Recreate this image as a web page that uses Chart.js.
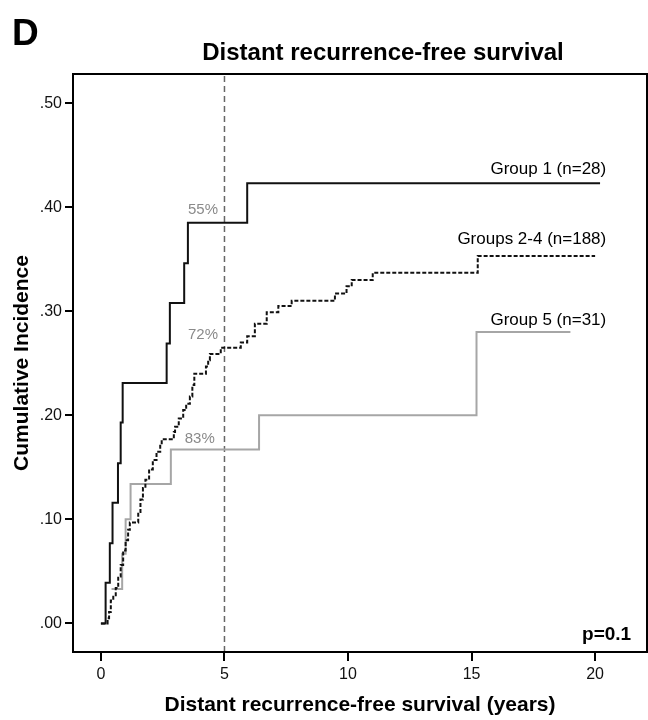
<!DOCTYPE html>
<html><head><meta charset="utf-8">
<script src="https://cdn.jsdelivr.net/npm/chart.js@4/dist/chart.umd.min.js"></script>
<style>html,body{margin:0;padding:0;background:#fff}#wrap{width:648px;height:720px}</style>
</head><body><div id="wrap"><canvas id="c" width="648" height="720"></canvas></div>
<script>
// Data (years, cumulative incidence)
const group1Times  = [0, 0.19, 0.36, 0.47, 0.69, 0.80, 0.88, 2.66, 2.79, 3.37, 3.52, 5.92, 20.2];
const group1Values = [0, 0.039, 0.077, 0.116, 0.154, 0.193, 0.231, 0.269, 0.308, 0.346, 0.385, 0.423, 0.423];

const group24Times  = [0, 0.27, 0.33, 0.40, 0.50, 0.60, 0.70, 0.80, 0.90, 1.00, 1.10, 1.17, 1.51, 1.60, 1.70, 1.80, 1.95, 2.10, 2.25, 2.40, 2.46, 2.95, 3.00, 3.15, 3.33, 3.45, 3.60, 3.70, 3.78, 4.25, 4.34, 4.41, 4.85, 5.66, 5.92, 6.23, 6.71, 7.18, 7.72, 9.47, 9.94, 10.15, 11.00, 15.25, 20.0];
const group24Values = [0, 0.005, 0.011, 0.022, 0.027, 0.034, 0.045, 0.056, 0.070, 0.080, 0.090, 0.097, 0.107, 0.119, 0.130, 0.138, 0.148, 0.157, 0.165, 0.172, 0.177, 0.184, 0.189, 0.197, 0.205, 0.211, 0.218, 0.229, 0.240, 0.247, 0.253, 0.259, 0.265, 0.270, 0.276, 0.288, 0.299, 0.305, 0.310, 0.317, 0.324, 0.330, 0.337, 0.353, 0.353];

const group5Times  = [0.43, 0.86, 1.00, 1.20, 2.83, 6.40, 15.20, 19.0];
const group5Values = [0.033, 0.067, 0.100, 0.134, 0.167, 0.200, 0.280, 0.280];

const xTicks = [0, 5, 10, 15, 20];
const yTicks = [0, 0.1, 0.2, 0.3, 0.4, 0.5];
const referenceYear = 5;

const seriesLabels = ['Group 1 (n=28)', 'Groups 2-4 (n=188)', 'Group 5 (n=31)'];
const percentLabels = ['55%', '72%', '83%'];

const FONT = '"Liberation Sans", Arial, Helvetica, sans-serif';
const toXY = (ts, vs) => ts.map((t, i) => ({x: t, y: vs[i]}));

const overlay = {
  id: 'overlay',
  afterDraw(chart) {
    const {ctx, chartArea: a, scales: {x, y}} = chart;
    ctx.save();
    // frame
    ctx.strokeStyle = '#000'; ctx.lineWidth = 2;
    ctx.strokeRect(a.left, a.top, a.right - a.left, a.bottom - a.top);
    ctx.fillStyle = '#000';
    // panel letter
    ctx.font = 'bold 37px ' + FONT; ctx.textAlign = 'left'; ctx.textBaseline = 'alphabetic';
    ctx.fillText('D', 12, 45);
    // title
    ctx.font = 'bold 24px ' + FONT; ctx.textAlign = 'center'; ctx.textBaseline = 'middle';
    ctx.fillText('Distant recurrence-free survival', 383, 53);
    // axis titles
    ctx.font = 'bold 21px ' + FONT;
    ctx.fillText('Distant recurrence-free survival (years)', (a.left + a.right) / 2, 705);
    ctx.save();
    ctx.translate(22, (a.top + a.bottom) / 2); ctx.rotate(-Math.PI / 2);
    ctx.fillText('Cumulative Incidence', 0, 0);
    ctx.restore();
    // series labels
    ctx.font = '17px ' + FONT; ctx.textAlign = 'right';
    const lblY = [0.436, 0.369, 0.291];
    seriesLabels.forEach((s, i) => ctx.fillText(s, x.getPixelForValue(20.45), y.getPixelForValue(lblY[i])));
    // percent labels
    ctx.font = '15px ' + FONT; ctx.fillStyle = '#8a8a8a'; ctx.textAlign = 'center';
    const pX = [4.13, 4.13, 4.0], pY = [0.397, 0.277, 0.177];
    percentLabels.forEach((s, i) => ctx.fillText(s, x.getPixelForValue(pX[i]), y.getPixelForValue(pY[i])));
    // p value
    ctx.fillStyle = '#000'; ctx.font = 'bold 19px ' + FONT; ctx.textAlign = 'right';
    ctx.fillText('p=0.1', x.getPixelForValue(21.46), y.getPixelForValue(-0.011));
    ctx.restore();
  }
};

new Chart(document.getElementById('c'), {
  type: 'line',
  data: {
    datasets: [
      {label: seriesLabels[0], data: toXY(group1Times, group1Values), borderColor: '#111', borderWidth: 2, stepped: 'before', pointRadius: 0, fill: false},
      {label: seriesLabels[1], data: toXY(group24Times, group24Values), borderColor: '#111', borderWidth: 2, borderDash: [4, 2], stepped: 'before', pointRadius: 0, fill: false},
      {label: seriesLabels[2], data: toXY(group5Times, group5Values), borderColor: '#a6a6a6', borderWidth: 2, stepped: 'before', pointRadius: 0, fill: false},
      {label: 'ref', data: [{x: referenceYear, y: -0.0275}, {x: referenceYear, y: 0.528}], borderColor: '#666', borderWidth: 1.5, borderDash: [6, 4], pointRadius: 0, fill: false}
    ]
  },
  options: {
    responsive: false, animation: false, devicePixelRatio: 1,
    layout: {padding: {top: 74, right: 1, left: 0, bottom: 0}},
    plugins: {legend: {display: false}, tooltip: {enabled: false}, title: {display: false}},
    scales: {
      x: {
        type: 'linear', min: -1.13, max: 22.1,
        afterBuildTicks: s => { s.ticks = xTicks.map(v => ({value: v})); },
        afterFit: s => { s.height = 68; },
        grid: {display: true, drawOnChartArea: false, drawTicks: true, tickLength: 9, color: '#000', lineWidth: 2},
        border: {display: true, color: '#000', width: 2},
        ticks: {color: '#111', font: {family: FONT, size: 16}, padding: 4, maxRotation: 0}
      },
      y: {
        type: 'linear', min: -0.0275, max: 0.528,
        afterBuildTicks: s => { s.ticks = yTicks.map(v => ({value: v})); },
        afterFit: s => { s.width = 73; },
        grid: {display: true, drawOnChartArea: false, drawTicks: true, tickLength: 8, color: '#000', lineWidth: 2},
        border: {display: true, color: '#000', width: 2},
        ticks: {color: '#111', font: {family: FONT, size: 16}, padding: 3,
          callback: v => v.toFixed(2).replace(/^0/, '')}
      }
    }
  },
  plugins: [overlay]
});
</script>
</body></html>
